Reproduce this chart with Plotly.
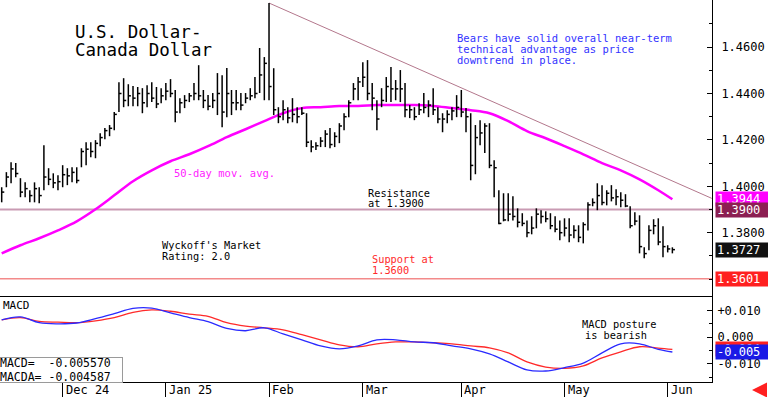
import plotly.graph_objects as go

# ---------------- data ----------------
highs = [
    1.3996, 1.4061, 1.4104, 1.4100, 1.4035, 1.4017, 1.3983, 1.4017, 1.3996, 1.4177,
    1.4078, 1.4056, 1.4048, 1.4091, 1.4078, 1.4082, 1.4082, 1.4164, 1.4190, 1.4190,
    1.4199, 1.4229, 1.4251, 1.4264, 1.4320, 1.4449, 1.4466, 1.4440, 1.4432, 1.4428,
    1.4423, 1.4436, 1.4449, 1.4428, 1.4423, 1.4445, 1.4462, 1.4415, 1.4380, 1.4393,
    1.4402, 1.4445, 1.4522, 1.4415, 1.4393, 1.4402, 1.4488, 1.4479, 1.4510, 1.4415,
    1.4415, 1.4402, 1.4402, 1.4423, 1.4471, 1.4596, 1.4557, 1.4790, 1.4509, 1.4341,
    1.4371, 1.4341, 1.4380, 1.4341, 1.4341, 1.4315, 1.4199, 1.4190, 1.4212, 1.4242,
    1.4251, 1.4233, 1.4272, 1.4315, 1.4371, 1.4445, 1.4471, 1.4535, 1.4544, 1.4445,
    1.4371, 1.4423, 1.4471, 1.4514, 1.4458, 1.4501, 1.4445, 1.4350, 1.4341, 1.4358,
    1.4402, 1.4371, 1.4423, 1.4341, 1.4315, 1.4328, 1.4341, 1.4393, 1.4415, 1.4337,
    1.4315, 1.4264, 1.4285, 1.4272, 1.4272, 1.4112, 1.3983, 1.3970, 1.3970, 1.3957,
    1.3905, 1.3884, 1.3853, 1.3871, 1.3905, 1.3897, 1.3892, 1.3884, 1.3871, 1.3853,
    1.3862, 1.3862, 1.3832, 1.3832, 1.3845, 1.3931, 1.3948, 1.4013, 1.4005, 1.3983,
    1.4005, 1.3987, 1.3974, 1.3966, 1.3914, 1.3888, 1.3875, 1.3737, 1.3832, 1.3858,
    1.3862, 1.3828, 1.3746, 1.3737,
]
lows = [
    1.3931, 1.3996, 1.4013, 1.4039, 1.3953, 1.3953, 1.3931, 1.3931, 1.3927, 1.3983,
    1.4005, 1.3992, 1.3983, 1.3996, 1.4005, 1.4017, 1.4013, 1.4082, 1.4091, 1.4125,
    1.4121, 1.4173, 1.4203, 1.4216, 1.4242, 1.4320, 1.4341, 1.4345, 1.4345, 1.4345,
    1.4315, 1.4341, 1.4363, 1.4337, 1.4358, 1.4371, 1.4384, 1.4276, 1.4315, 1.4337,
    1.4363, 1.4371, 1.4371, 1.4337, 1.4328, 1.4337, 1.4307, 1.4255, 1.4298, 1.4307,
    1.4328, 1.4328, 1.4358, 1.4371, 1.4380, 1.4402, 1.4371, 1.4371, 1.4307, 1.4272,
    1.4285, 1.4272, 1.4276, 1.4272, 1.4307, 1.4169, 1.4147, 1.4156, 1.4169, 1.4169,
    1.4164, 1.4169, 1.4186, 1.4242, 1.4298, 1.4371, 1.4371, 1.4428, 1.4371, 1.4328,
    1.4242, 1.4341, 1.4363, 1.4363, 1.4371, 1.4363, 1.4298, 1.4294, 1.4285, 1.4307,
    1.4315, 1.4298, 1.4307, 1.4272, 1.4233, 1.4272, 1.4285, 1.4298, 1.4298, 1.4233,
    1.4026, 1.4052, 1.4177, 1.4143, 1.4078, 1.3953, 1.3836, 1.3849, 1.3849, 1.3853,
    1.3823, 1.3828, 1.3780, 1.3793, 1.3819, 1.3840, 1.3845, 1.3815, 1.3802, 1.3767,
    1.3784, 1.3759, 1.3776, 1.3759, 1.3754, 1.3810, 1.3914, 1.3897, 1.3918, 1.3918,
    1.3935, 1.3918, 1.3910, 1.3910, 1.3819, 1.3832, 1.3711, 1.3690, 1.3724, 1.3793,
    1.3746, 1.3694, 1.3715, 1.3711,
]
closes = [
    1.3975, 1.4040, 1.4075, 1.4055, 1.3975, 1.3990, 1.3960, 1.3990, 1.3960, 1.4040,
    1.4030, 1.4015, 1.4020, 1.4050, 1.4045, 1.4060, 1.4025, 1.4150, 1.4160, 1.4150,
    1.4185, 1.4210, 1.4240, 1.4250, 1.4310, 1.4400, 1.4370, 1.4390, 1.4380, 1.4400,
    1.4360, 1.4400, 1.4380, 1.4355, 1.4390, 1.4410, 1.4400, 1.4320, 1.4360, 1.4370,
    1.4390, 1.4400, 1.4390, 1.4370, 1.4345, 1.4370, 1.4400, 1.4320, 1.4400, 1.4360,
    1.4360, 1.4350, 1.4380, 1.4390, 1.4400, 1.4480, 1.4530, 1.4430, 1.4330, 1.4300,
    1.4330, 1.4295, 1.4310, 1.4300, 1.4315, 1.4190, 1.4170, 1.4175, 1.4195, 1.4225,
    1.4180, 1.4215, 1.4260, 1.4300, 1.4360, 1.4420, 1.4450, 1.4470, 1.4400, 1.4380,
    1.4290, 1.4370, 1.4430, 1.4420, 1.4420, 1.4420, 1.4330, 1.4330, 1.4300, 1.4330,
    1.4340, 1.4350, 1.4330, 1.4290, 1.4290, 1.4310, 1.4325, 1.4340, 1.4320, 1.4300,
    1.4090, 1.4210, 1.4230, 1.4260, 1.4090, 1.4080, 1.3840, 1.3855, 1.3880, 1.3870,
    1.3845, 1.3840, 1.3800, 1.3820, 1.3880, 1.3870, 1.3860, 1.3830, 1.3815, 1.3800,
    1.3820, 1.3790, 1.3810, 1.3780, 1.3835, 1.3920, 1.3930, 1.3960, 1.3930, 1.3970,
    1.3950, 1.3955, 1.3940, 1.3915, 1.3830, 1.3850, 1.3740, 1.3710, 1.3810, 1.3830,
    1.3760, 1.3740, 1.3730, 1.3727,
]

# 50-day moving average, read at sampled bars
ma_idx = [0, 4, 8, 12, 16, 20, 24, 28, 32, 36, 40, 44, 48, 52, 56, 60, 64, 68, 72,
          76, 80, 84, 88, 92, 96, 100, 104, 108, 112, 116, 120, 124, 128, 132, 136, 140, 143]
ma50 = [1.3711, 1.3746, 1.3776, 1.3810, 1.3849, 1.3901, 1.3961, 1.4022, 1.4069, 1.4108,
        1.4138, 1.4173, 1.4212, 1.4246, 1.4281, 1.4315, 1.4337, 1.4341, 1.4346,
        1.4346, 1.4350, 1.4350, 1.4350, 1.4346, 1.4337, 1.4328, 1.4315, 1.4281, 1.4238,
        1.4207, 1.4173, 1.4138, 1.4100, 1.4069, 1.4030, 1.3983, 1.3944]

# MACD (blue) and its signal line MACDA (red), read at sampled bars
macd_idx = ma_idx
macd = [0.0065, 0.0076, 0.0054, 0.0050, 0.0053, 0.0069, 0.0088, 0.0108, 0.0109, 0.0091,
        0.0073, 0.0058, 0.0033, 0.0024, 0.0035, 0.0012, -0.0010, -0.0033, -0.0044,
        -0.0033, -0.0010, -0.0010, -0.0018, -0.0021, -0.0033, -0.0044, -0.0063, -0.0093,
        -0.0123, -0.0127, -0.0114, -0.0097, -0.0059, -0.0025, -0.0025, -0.0046, -0.005570]
macda = [0.0065, 0.0073, 0.0059, 0.0056, 0.0054, 0.0061, 0.0073, 0.0093, 0.0102, 0.0097,
         0.0086, 0.0078, 0.0054, 0.0041, 0.0035, 0.0027, 0.0009, -0.0010, -0.0029,
         -0.0036, -0.0025, -0.0018, -0.0018, -0.0021, -0.0025, -0.0033, -0.0040, -0.0059,
         -0.0093, -0.0112, -0.0117, -0.0108, -0.0078, -0.0055, -0.0036, -0.0041, -0.004587]

month_idx = [13, 35, 57, 77, 98, 120, 142]
month_labels = ["Dec 24", "Jan 25", "Feb", "Mar", "Apr", "May", "Jun"]
price_ticks = [1.38, 1.40, 1.42, 1.44, 1.46]
macd_ticks = [0.010, 0.0, -0.010]
macd_tick_text = ["+0.010", "0.000", "-0.010"]

trend_idx = [57, 151.4]
trend_price = [1.4790, 1.3948]
resistance = 1.3900
support = 1.3601

# ---------------- figure ----------------
W, H = 768, 397
MONO = "DejaVu Sans Mono"
PX = lambda x: x / W
PY = lambda y: 1 - y / H

x_end = 712 / W
fig = go.Figure()

# horizontal reference levels
fig.add_shape(type="line", xref="x domain", x0=0, x1=1, yref="y", y0=resistance, y1=resistance,
              line=dict(color="#c99bb3", width=2), layer="below")
fig.add_shape(type="line", xref="x domain", x0=0, x1=1, yref="y", y0=support, y1=support,
              line=dict(color="#f38a8a", width=1.5), layer="below")

# bars (HLC)
bx, by, cx, cy = [], [], [], []
for i, (h, l, c) in enumerate(zip(highs, lows, closes)):
    bx += [i, i, None]
    by += [l, h, None]
    cx += [i, i + 0.55, None]
    cy += [c, c, None]

fig.add_trace(go.Scatter(x=trend_idx, y=trend_price, mode="lines",
                         line=dict(color="#b3778c", width=1), xaxis="x", yaxis="y",
                         hoverinfo="skip"))
fig.add_trace(go.Scatter(x=ma_idx, y=ma50, mode="lines", line=dict(color="#ff00ff", width=2.5, shape="spline"),
                         xaxis="x", yaxis="y"))
fig.add_trace(go.Scatter(x=bx, y=by, mode="lines", line=dict(color="black", width=1.5),
                         xaxis="x", yaxis="y", connectgaps=False))
fig.add_trace(go.Scatter(x=cx, y=cy, mode="lines", line=dict(color="black", width=1.5),
                         xaxis="x", yaxis="y", connectgaps=False))

fig.add_trace(go.Scatter(x=macd_idx, y=macda, mode="lines", line=dict(color="#ff2a2a", width=1.3, shape="spline"),
                         xaxis="x2", yaxis="y2"))
fig.add_trace(go.Scatter(x=macd_idx, y=macd, mode="lines", line=dict(color="#2a2aff", width=1.3, shape="spline"),
                         xaxis="x2", yaxis="y2"))

xr = [-0.36, 151.45]
fig.update_layout(
    width=W, height=H, margin=dict(l=0, r=0, t=0, b=0),
    paper_bgcolor="white", plot_bgcolor="white", showlegend=False,
    xaxis=dict(domain=[0, x_end], range=xr, showticklabels=False, showgrid=False,
               zeroline=False, showline=False, ticks="", anchor="y"),
    yaxis=dict(domain=[1 - 296.5 / H, 1], range=[1.3525, 1.4803], side="right", anchor="x",
               tickvals=price_ticks, ticktext=[f"{v:.4f}" for v in price_ticks],
               ticks="inside", ticklen=5, tickcolor="black", showline=True, linecolor="black",
               linewidth=1, showgrid=False, zeroline=False, ticklabelstandoff=6,
               tickfont=dict(family=MONO, size=12, color="black"),
               minor=dict(tickmode="linear", tick0=1.35, dtick=0.01, ticks="inside", ticklen=3,
                          tickcolor="black", showgrid=False)),
    xaxis2=dict(domain=[0, x_end], range=xr, matches="x", anchor="y2", tickvals=month_idx,
                ticks="outside", ticklen=16, tickcolor="black", tickwidth=1,
                showticklabels=False, showline=True, mirror=True, linecolor="black",
                linewidth=1, showgrid=False, zeroline=False),
    yaxis2=dict(domain=[1 - 381.7 / H, 1 - 296.7 / H], range=[-0.0167, 0.01515], side="right",
                anchor="x2", tickvals=macd_ticks, ticktext=macd_tick_text, ticks="inside",
                ticklen=5, tickcolor="black", showline=True, linecolor="black", linewidth=1,
                showgrid=False, zeroline=False, ticklabelstandoff=2,
                tickfont=dict(family=MONO, size=12, color="black"),
                minor=dict(tickmode="linear", tick0=0, dtick=0.005, ticks="inside", ticklen=3,
                           tickcolor="black")),
)


def txt(s, x, y, color="black", size=10.3, anchor="left"):
    fig.add_annotation(text=s, xref="paper", yref="paper", x=PX(x), y=PY(y),
                       xanchor=anchor, yanchor="middle", showarrow=False,
                       font=dict(family=MONO, size=size, color=color))


txt("U.S. Dollar-", 73, 32, size=17.5)
txt("Canada Dollar", 73, 50, size=17.5)
blue = "#3333ff"
txt("Bears have solid overall near-term", 455, 38, blue, 10.5)
txt("technical advantage as price", 455, 49, blue, 10.5)
txt("downtrend in place.", 455, 60, blue, 10.5)
txt("50-day mov. avg.", 172, 173, "#ff22ff", 10.5)
txt("Resistance", 366, 192.5)
txt("at 1.3900", 366, 203.5)
txt("Wyckoff's Market", 160, 245)
txt("Rating: 2.0", 160, 256)
txt("Support at", 370, 259, "#ff2a2a")
txt("1.3600", 370, 270, "#ff2a2a")
txt("MACD", 1, 305, size=11)
txt("MACD posture", 580, 323.5)
txt("is bearish", 583, 334.5)

# month labels on the bottom strip
for mi, ml in zip(month_idx, month_labels):
    fig.add_annotation(text=ml, xref="x2", yref="paper", x=mi, y=PY(389.5), xanchor="left",
                       yanchor="middle", xshift=1, showarrow=False,
                       font=dict(family=MONO, size=12, color="black"))

# MACD value box
fig.add_annotation(text=f"MACD=  {macd[-1]:.6f}<br>MACDA= {macda[-1]:.6f}", xref="paper", yref="paper",
                   x=PX(-1), y=PY(369.5), xanchor="left", yanchor="middle", showarrow=False,
                   align="left", bgcolor="white", bordercolor="#9a9a9a", borderwidth=1,
                   borderpad=0, width=122, height=24,
                   font=dict(family=MONO, size=11.5, color="black"))


def box(val, text, bg, yref):
    fig.add_annotation(text=text, xref="paper", yref=yref, x=PX(715), y=val, xanchor="left",
                       yanchor="middle", showarrow=False, bgcolor=bg, width=50, height=12,
                       borderpad=1, align="left",
                       font=dict(family=MONO, size=12, color="white"))


def trunc3(v):
    return f"{int(v * 1000) / 1000:.3f}"


box(ma50[-1], f"{ma50[-1]:.4f}", "#ff00ff", "y")
box(resistance, f"{resistance:.4f}", "#8c1f52", "y")
box(closes[-1], f"{closes[-1]:.4f}", "#111111", "y")
box(support, f"{support:.4f}", "#ff2020", "y")
box(macda[-1], trunc3(macda[-1]), "#ff2020", "y2")
box(macd[-1], trunc3(macd[-1]), "#1a1ae6", "y2")

# red arrow bottom-right
fig.add_annotation(text="", xref="paper", yref="paper", x=PX(752), y=PY(390), ax=14, ay=0,
                   showarrow=True, arrowhead=2, arrowsize=1, arrowwidth=3, arrowcolor="#ff2020")

fig.write_html("out.html", config={"displayModeBar": False},
               post_script="document.body.style.margin='0';document.body.style.overflow='hidden';")
